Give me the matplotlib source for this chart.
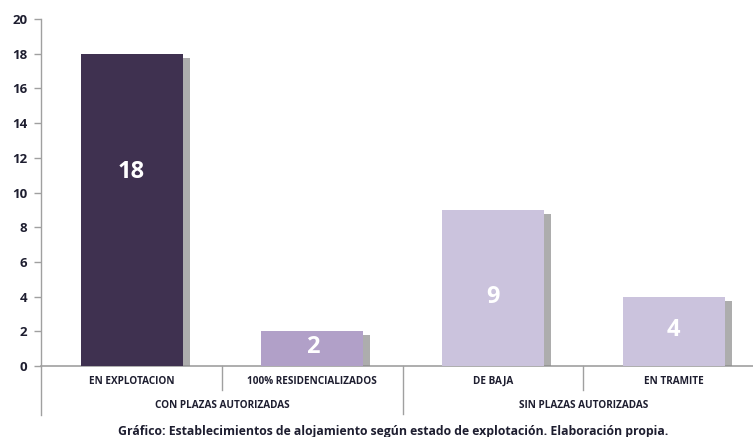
import matplotlib
matplotlib.use("Agg")
import matplotlib.pyplot as plt
import matplotlib.transforms as mtransforms
import matplotlib.patheffects as pe

categories = ["EN EXPLOTACION", "100% RESIDENCIALIZADOS", "DE BAJA", "EN TRAMITE"]
groups = ["CON PLAZAS AUTORIZADAS", "SIN PLAZAS AUTORIZADAS"]
values = [18, 2, 9, 4]
yticks = [0, 2, 4, 6, 8, 10, 12, 14, 16, 18, 20]
caption = "Gráfico: Establecimientos de alojamiento según estado de explotación. Elaboración propia."

colors = ["#3F3150", "#B1A0C8", "#CBC3DD", "#CBC3DD"]
label_y = [11.2, 1.1, 4.0, 2.05]
txt_color = "#1E1E30"
line_color = "#A0A0A0"
font = "Open Sans"

fig = plt.figure(figsize=(7.53, 4.37), dpi=100)
W, H = 753, 437
ax = fig.add_axes([41.2 / W, (H - 366) / H, 723 / W, 347 / H])

x = list(range(len(values)))
bars = ax.bar(x, values, width=0.565, color=colors, zorder=3)
for b in bars:
    b.set_path_effects([pe.SimplePatchShadow(offset=(5, -3), shadow_rgbFace="#8A8A8A", alpha=0.7),
                        pe.Normal()])

for xi, v, ly in zip(x, values, label_y):
    ax.text(xi, ly, str(v), ha="center", va="center", color="white",
            fontsize=17, fontweight="bold", family=font, zorder=5)

ax.set_xlim(-0.5, len(values) - 0.5)
ax.set_ylim(0, 20)
ax.set_yticks(yticks)
ax.set_yticklabels([str(t) for t in yticks], fontsize=9.5, fontweight="bold",
                   color=txt_color, family=font)
ax.set_xticks([])
ax.tick_params(axis="y", length=5, width=1, color=line_color, pad=5)
for s in ["top", "right"]:
    ax.spines[s].set_visible(False)
ax.spines["left"].set_color(line_color)
ax.spines["bottom"].set_color(line_color)
ax.spines["left"].set_linewidth(1)
ax.spines["bottom"].set_linewidth(1.2)

trans = mtransforms.blended_transform_factory(ax.transData, ax.transAxes)
# separators
ax.plot([-0.5, -0.5], [0, -0.14], transform=trans, color=line_color, lw=1, clip_on=False)
for bx in [0.5, 2.5]:
    ax.plot([bx, bx], [0, -0.069], transform=trans, color=line_color, lw=1, clip_on=False)
ax.plot([1.5, 1.5], [0, -0.138], transform=trans, color=line_color, lw=1, clip_on=False)

for xi, c in zip(x, categories):
    ax.text(xi, -0.045, c, transform=trans, ha="center", va="center", fontsize=7.2,
            fontweight="bold", color=txt_color, family=font)
for gi, g in enumerate(groups):
    ax.text(2 * gi + 0.5, -0.114, g, transform=trans, ha="center", va="center",
            fontsize=7.2, fontweight="bold", color=txt_color, family=font)

fig.text(393 / W, 1 - 432 / H, caption, ha="center", va="center", fontsize=8.8,
         fontweight="bold", color=txt_color, family=font)

fig.savefig("out.png", dpi=100)
